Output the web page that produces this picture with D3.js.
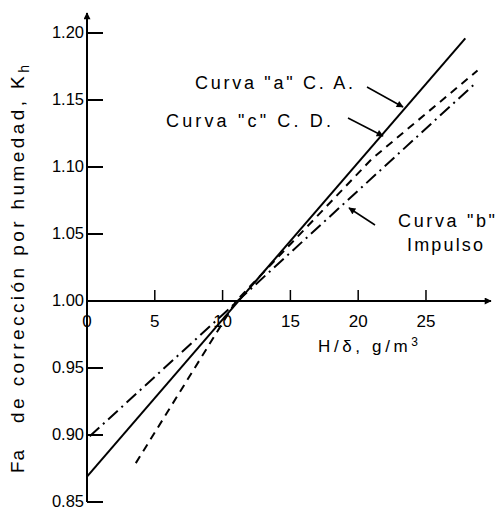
<!DOCTYPE html>
<html>
<head>
<meta charset="utf-8">
<script src="https://cdn.jsdelivr.net/npm/d3@7"></script>
<style>
  body { margin: 0; background: #fff; }
  text { font-family: "Liberation Sans", Arial, sans-serif; fill: #000; }
</style>
</head>
<body>
<svg id="chart"></svg>
<script>
// values
const xTicks = [0, 5, 10, 15, 20, 25];
const yTicks = [0.85, 0.90, 0.95, 1.00, 1.05, 1.10, 1.15, 1.20];
const yTickLabels = ["0.85", "0.90", "0.95", "1.00", "1.05", "1.10", "1.15", "1.20"];

// curve "a" (C. A.), curve "b" (impulso), curve "c" (C. D.)
const curveA = [[0, 0.869], [27.9, 1.196]];
const curveB = [[0.2, 0.899], [28.7, 1.163]];
const curveC = [[3.6, 0.879], [11.0, 1.0], [21.0, 1.106], [28.8, 1.172]];

const w = 498;
const h = 512;

const x = d3.scaleLinear().domain([0, 29.5]).range([87, 487]);
const y = d3.scaleLinear().domain([0.85, 1.20]).range([502, 33]);

const svg = d3.select("#chart").attr("width", w).attr("height", h);

svg.append("defs").append("marker")
  .attr("id", "head")
  .attr("viewBox", "0 0 10 10")
  .attr("refX", 9).attr("refY", 5)
  .attr("markerWidth", 9).attr("markerHeight", 7)
  .attr("markerUnits", "userSpaceOnUse")
  .attr("orient", "auto")
  .append("path")
  .attr("d", "M0,0 L10,5 L0,10 Z")
  .attr("fill", "#000");

// axes: y axis at x = 0, x axis at Kh = 1.00
const y0 = y(1.0);

svg.append("line")
  .attr("x1", x(0)).attr("x2", x(0))
  .attr("y1", y(0.85)).attr("y2", 13)
  .attr("stroke", "#000").attr("stroke-width", 2)
  .attr("marker-end", "url(#head)");

svg.append("line")
  .attr("x1", x(0)).attr("x2", 491)
  .attr("y1", y0).attr("y2", y0)
  .attr("stroke", "#000").attr("stroke-width", 2.2)
  .attr("marker-end", "url(#head)");

// y ticks point to the right
svg.selectAll(".ytick")
  .data(yTicks)
  .enter()
  .append("line")
  .attr("x1", x(0)).attr("x2", x(0) + 16)
  .attr("y1", d => y(d)).attr("y2", d => y(d))
  .attr("stroke", "#000").attr("stroke-width", 2);

svg.selectAll(".ylab")
  .data(yTicks)
  .enter()
  .append("text")
  .attr("x", x(0) - 3)
  .attr("y", d => y(d) + 5)
  .attr("text-anchor", "end")
  .attr("font-size", 16.5)
  .text((d, i) => yTickLabels[i]);

// x ticks point up
svg.selectAll(".xtick")
  .data(xTicks.filter(d => d > 0))
  .enter()
  .append("line")
  .attr("x1", d => x(d)).attr("x2", d => x(d))
  .attr("y1", y0).attr("y2", y0 - 11)
  .attr("stroke", "#000").attr("stroke-width", 1.5);

svg.selectAll(".xlab")
  .data(xTicks)
  .enter()
  .append("text")
  .attr("x", d => x(d))
  .attr("y", y0 + 26)
  .attr("text-anchor", "middle")
  .attr("font-size", 17)
  .text(d => d);

svg.append("text")
  .attr("x", 318).attr("y", 352)
  .attr("font-size", 17)
  .attr("textLength", 100)
  .attr("lengthAdjust", "spacing")
  .html("H/δ, g/m<tspan dy='-6' font-size='12'>3</tspan>");

// y label, rotated; middle of the word is lost in the scan
const ylab = svg.append("g").attr("transform", "translate(24,0) rotate(-90)");
ylab.append("text")
  .attr("x", -473).attr("y", 0)
  .attr("font-size", 19)
  .attr("letter-spacing", 1)
  .text("Fa");
ylab.append("text")
  .attr("x", -423).attr("y", 0)
  .attr("font-size", 19)
  .attr("textLength", 358)
  .attr("lengthAdjust", "spacing")
  .html("de corrección por humedad, K<tspan dy='5' font-size='14'>h</tspan>");

// curves
const line = d3.line()
  .x(d => x(d[0]))
  .y(d => y(d[1]));

svg.append("path")
  .datum(curveA)
  .attr("fill", "none")
  .attr("stroke", "#000")
  .attr("stroke-width", 2)
  .attr("d", line);

svg.append("path")
  .datum(curveB)
  .attr("fill", "none")
  .attr("stroke", "#000")
  .attr("stroke-width", 2)
  .attr("stroke-dasharray", "13,5,2,5")
  .attr("d", line);

svg.append("path")
  .datum(curveC)
  .attr("fill", "none")
  .attr("stroke", "#000")
  .attr("stroke-width", 2)
  .attr("stroke-dasharray", "8,6")
  .attr("d", line);

// annotations with leader arrows
const notes = [
  { lines: ["Curva \"a\" C. A."], len: [158], tx: 195, ty: 89, from: [367, 87], to: [403, 107] },
  { lines: ["Curva \"c\" C. D."], len: [165], tx: 166, ty: 127, from: [348, 118], to: [383, 136] },
  { lines: ["Curva \"b\"", "Impulso"], len: [97, 76], tx: 398, ty: 227, from: [375, 225], to: [349, 208] }
];

notes.forEach(n => {
  n.lines.forEach((s, i) => {
    svg.append("text")
      .attr("x", n.tx + (i ? 9 : 0))
      .attr("y", n.ty + i * 24)
      .attr("font-size", 18)
      .attr("textLength", n.len[i])
      .attr("lengthAdjust", "spacing")
      .text(s);
  });
  svg.append("line")
    .attr("x1", n.from[0]).attr("y1", n.from[1])
    .attr("x2", n.to[0]).attr("y2", n.to[1])
    .attr("stroke", "#000").attr("stroke-width", 1.5)
    .attr("marker-end", "url(#head)");
});
</script>
</body>
</html>
